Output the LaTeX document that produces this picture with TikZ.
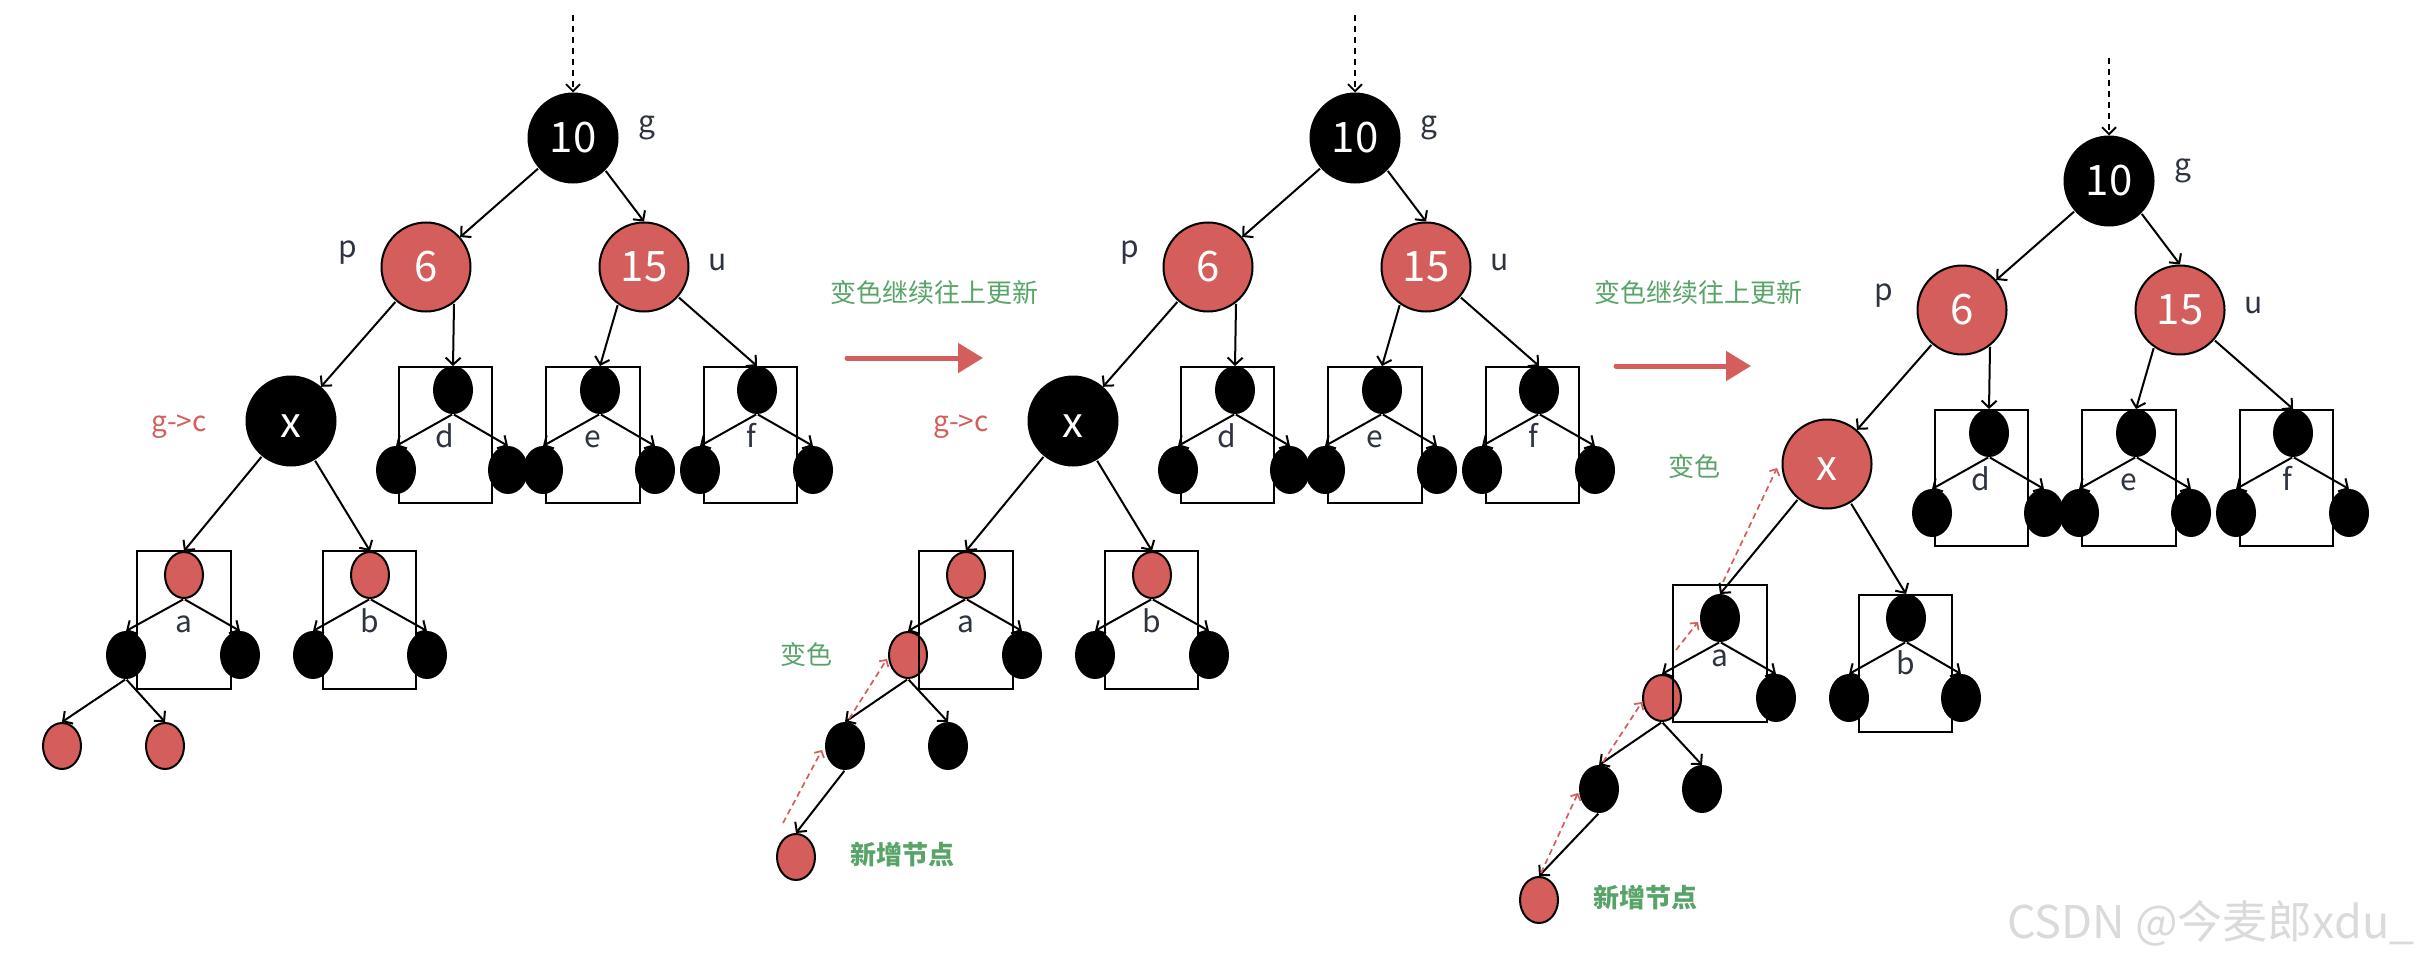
\documentclass[tikz,border=0pt]{standalone}
\usepackage{fontspec}
\setmainfont{Noto Sans CJK SC}
\usetikzlibrary{arrows.meta,shapes.geometric}
\definecolor{rbred}{RGB}{211,94,91}
\definecolor{rbgreen}{RGB}{88,164,104}
\definecolor{lblgray}{RGB}{45,52,64}
\definecolor{wmgray}{RGB}{218,218,218}
\tikzset{
  big/.style={circle, minimum size=89pt, inner sep=0pt, line width=2pt, draw=black, text=white, font=\fontsize{42}{42}\selectfont},
  bigblack/.style={big, fill=black},
  bigred/.style={big, fill=rbred},
  sm/.style={ellipse, minimum width=38pt, minimum height=46pt, inner sep=0pt, line width=2pt, draw=black},
  sblack/.style={sm, fill=black},
  sred/.style={sm, fill=rbred},
  lbl/.style={font=\fontsize{30}{30}\selectfont, text=lblgray, inner sep=0pt},
  redlbl/.style={font=\fontsize{28}{28}\selectfont, text=rbred, inner sep=0pt},
  cnote/.style={font=\fontsize{26}{26}\selectfont, text=rbgreen, inner sep=0pt},
  cbold/.style={font=\fontsize{26}{26}\selectfont\bfseries, text=rbgreen, inner sep=0pt},
  boxst/.style={draw=black, line width=2.2pt, rectangle, inner sep=0pt},
  edge/.style={draw=black, line width=2pt, -{Straight Barb[length=7pt,width=15pt]}, shorten <=1pt},
  topdash/.style={draw=black, line width=1.8pt, dash pattern=on 6pt off 5pt, -{Straight Barb[length=7pt,width=14pt]}},
  reddash/.style={draw=rbred, line width=1.7pt, dash pattern=on 6pt off 4pt, -{Straight Barb[length=5pt,width=11pt]}},
  bigarrow/.style={draw=rbred, line width=5pt, line cap=round, -{Triangle[length=25pt,width=29pt]}},
  wm/.style={font=\fontsize{45}{45}\selectfont, text=wmgray, inner sep=0pt}
}
\newcommand\RBtop[2]{%
  \coordinate (#1s) at (573,15);
  \node[bigblack] (#1g) at (573,138) {10};
  \node[bigred] (#1p) at (426,267) {6};
  \node[bigred] (#1u) at (644,267) {15};
  \node[#2] (#1x) at (291,421) {\raisebox{-16pt}[0pt][0pt]{x}};
  \node[lbl] (#1lg) at (647,128) {g};
  \node[lbl] (#1lp) at (348,253) {p};
  \node[lbl] (#1lu) at (718,263) {u};
  \node[sblack] (#1dt) at (453,390) {};
  \node[sblack] (#1dl) at (396,470) {};
  \node[sblack] (#1dr) at (508,470) {};
  \node[sblack] (#1et) at (600,390) {};
  \node[sblack] (#1el) at (543,470) {};
  \node[sblack] (#1er) at (655,470) {};
  \node[sblack] (#1ft) at (757,390) {};
  \node[sblack] (#1fl) at (700,470) {};
  \node[sblack] (#1fr) at (813,470) {};
  \node[boxst, minimum width=93pt, minimum height=136pt] (#1bd) at (445.5,435) {};
  \node[boxst, minimum width=94pt, minimum height=136pt] (#1be) at (593,435) {};
  \node[boxst, minimum width=93pt, minimum height=136pt] (#1bf) at (750.5,435) {};
  \node[lbl, anchor=base] (#1ld) at (445,447) {d};
  \node[lbl, anchor=base] (#1le) at (593,447) {e};
  \node[lbl, anchor=base] (#1lf) at (751,447) {f};
  \draw[topdash] (#1s) -- (#1g);
  \draw[edge] (#1g) -- (#1p);
  \draw[edge] (#1g.-45) -- (#1u.north);
  \draw[edge] (#1p) -- (#1x);
  \draw[edge] (#1p.-52) -- (#1dt.north);
  \draw[edge] (#1u.235) -- (#1et.north);
  \draw[edge] (#1u) -- (#1ft.north);
  \draw[edge] (#1dt.south) -- (#1dl.north);
  \draw[edge] (#1dt.south) -- (#1dr.north);
  \draw[edge] (#1et.south) -- (#1el.north);
  \draw[edge] (#1et.south) -- (#1er.north);
  \draw[edge] (#1ft.south) -- (#1fl.north);
  \draw[edge] (#1ft.south) -- (#1fr.north);
}
\begin{document}
\begin{tikzpicture}[x=1pt,y=-1pt]
\useasboundingbox (0,0) rectangle (2425,963);
% ---------- transition arrows ----------
\coordinate (A1s) at (847,358); \coordinate (A1e) at (983,358);
\draw[bigarrow] (A1s) -- (A1e);
\node[cnote] (T1) at (934,293) {变色继续往上更新};
\coordinate (A2s) at (1616,366); \coordinate (A2e) at (1751,366);
\draw[bigarrow] (A2s) -- (A2e);
\node[cnote] (T2) at (1698,293) {变色继续往上更新};
% ---------- tree 1 ----------
\begin{scope}
  \RBtop{a}{bigblack}
\end{scope}
\node[redlbl] (agc) at (179,427) {g->c};
\node[sred] (aat) at (184,575) {};
\node[sblack] (aal) at (126,655) {};
\node[sblack] (aar) at (240,655) {};
\node[sred] (abt) at (370,575) {};
\node[sblack] (abl) at (313,655) {};
\node[sblack] (abr) at (427,655) {};
\node[sred] (al1) at (62,746) {};
\node[sred] (al2) at (165,746) {};
\node[boxst, minimum width=94pt, minimum height=138pt] (aba) at (184,620) {};
\node[boxst, minimum width=93pt, minimum height=138pt] (abb) at (369.5,620) {};
\node[lbl, anchor=base] (ala) at (184,632) {a};
\node[lbl, anchor=base] (alb) at (370,632) {b};
\draw[edge] (ax) -- (aat.north);
\draw[edge] (ax) -- (abt.north);
\draw[edge] (aat.south) -- (aal.north);
\draw[edge] (aat.south) -- (aar.north);
\draw[edge] (abt.south) -- (abl.north);
\draw[edge] (abt.south) -- (abr.north);
\draw[edge] (aal.south) -- (al1.north);
\draw[edge] (aal.south) -- (al2.north);
% ---------- tree 2 ----------
\begin{scope}[shift={(782,0)}]
  \RBtop{b}{bigblack}
\end{scope}
\node[redlbl] (bgc) at (961,427) {g->c};
\node[sred] (bat) at (966,575) {};
\node[sred] (bal) at (908,655) {};
\node[sblack] (bar) at (1022,655) {};
\node[sred] (bbt) at (1152,575) {};
\node[sblack] (bbl) at (1095,655) {};
\node[sblack] (bbr) at (1209,655) {};
\node[sblack] (bl1) at (845,746) {};
\node[sblack] (bl2) at (948,746) {};
\node[sred] (bnew) at (796,857) {};
\node[boxst, minimum width=94pt, minimum height=138pt] (bba) at (966,620) {};
\node[boxst, minimum width=93pt, minimum height=138pt] (bbb) at (1151.5,620) {};
\node[lbl, anchor=base] (bla) at (966,632) {a};
\node[lbl, anchor=base] (blb) at (1152,632) {b};
\node[cnote] (bcs) at (806,655) {变色};
\node[cbold] (bxz) at (902,855) {新增节点};
\draw[edge] (bx) -- (bat.north);
\draw[edge] (bx) -- (bbt.north);
\draw[edge] (bat.south) -- (bal.north);
\draw[edge] (bat.south) -- (bar.north);
\draw[edge] (bbt.south) -- (bbl.north);
\draw[edge] (bbt.south) -- (bbr.north);
\draw[edge] (bal.south) -- (bl1.north);
\draw[edge] (bal.south) -- (bl2.north);
\draw[edge] (bl1.south) -- (bnew.north);
\coordinate (bd1s) at (783,823); \coordinate (bd1e) at (822,750);
\coordinate (bd2s) at (849,719); \coordinate (bd2e) at (887,659);
\draw[reddash] (bd1s) -- (bd1e);
\draw[reddash] (bd2s) -- (bd2e);
% ---------- tree 3 ----------
\begin{scope}[shift={(1536,43)}]
  \RBtop{c}{bigred}
\end{scope}
\node[sblack] (cat) at (1720,618) {};
\node[sred] (cal) at (1662,698) {};
\node[sblack] (car) at (1776,698) {};
\node[sblack] (cbt) at (1906,618) {};
\node[sblack] (cbl) at (1849,698) {};
\node[sblack] (cbr) at (1961,698) {};
\node[sblack] (cl1) at (1599,789) {};
\node[sblack] (cl2) at (1702,789) {};
\node[sred] (cnew) at (1539,900) {};
\node[boxst, minimum width=94pt, minimum height=137pt] (cba) at (1720,653.5) {};
\node[boxst, minimum width=93pt, minimum height=137pt] (cbb) at (1905.5,663.5) {};
\node[lbl, anchor=base] (cla) at (1720,666) {a};
\node[lbl, anchor=base] (clb) at (1906,674) {b};
\node[cnote] (ccs) at (1694,467) {变色};
\node[cbold] (cxz) at (1645,898) {新增节点};
\draw[edge] (cx) -- (cat.north);
\draw[edge] (cx) -- (cbt.north);
\draw[edge] (cat.south) -- (cal.north);
\draw[edge] (cat.south) -- (car.north);
\draw[edge] (cbt.south) -- (cbl.north);
\draw[edge] (cbt.south) -- (cbr.north);
\draw[edge] (cal.south) -- (cl1.north);
\draw[edge] (cal.south) -- (cl2.north);
\draw[edge] (cl1.south) -- (cnew.north);
\coordinate (cd1s) at (1541,873); \coordinate (cd1e) at (1578,793);
\coordinate (cd2s) at (1603,762); \coordinate (cd2e) at (1642,702);
\coordinate (cd3s) at (1676,650); \coordinate (cd3e) at (1698,622);
\coordinate (cd4s) at (1723,582); \coordinate (cd4e) at (1777,468);
\draw[reddash] (cd1s) -- (cd1e);
\draw[reddash] (cd2s) -- (cd2e);
\draw[reddash] (cd3s) -- (cd3e);
\draw[reddash] (cd4s) -- (cd4e);
% ---------- watermark ----------
\node[wm] (wmk) at (2211,923) {CSDN @今麦郎xdu\_};
\end{tikzpicture}
\end{document}
